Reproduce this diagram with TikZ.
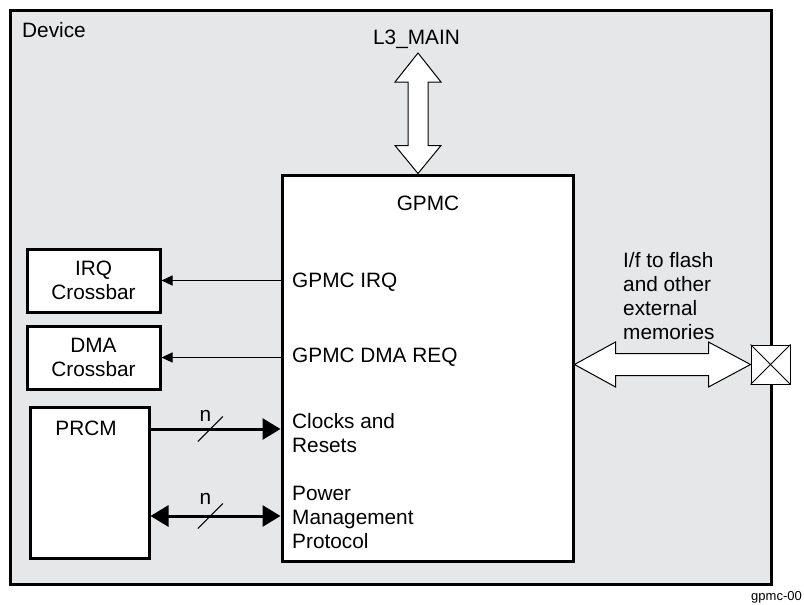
\documentclass[tikz,border=0pt]{standalone}
\usepackage{fontspec}
\setmainfont{Liberation Sans}
\usetikzlibrary{arrows.meta,calc}
\definecolor{devicegray}{RGB}{230,231,232}
\begin{document}
\begin{tikzpicture}[x=1pt, y=-1pt,
  every node/.style={font=\fontsize{20.8}{24}\selectfont, inner sep=0pt},
  block/.style={draw, line width=3pt, fill=white},
  sigline/.style={line width=1pt, -{Triangle[length=11pt,width=10pt]}},
  busline/.style={line width=3pt, >={Triangle[length=18pt,width=21pt]}},
  fatarrow/.style={draw, line width=1pt, fill=white, line join=miter}]
\useasboundingbox (0,0) rectangle (804,605);
\node[draw, line width=3pt, fill=devicegray, minimum width=761pt, minimum height=574pt] (device) at (390.5,297) {};
\node[anchor=base west] (devlabel) at (22,37) {Device};
\node[block, minimum width=291pt, minimum height=386pt] (gpmc) at (427.5,368) {};
\node (gpmclabel) at (428,203) {GPMC};
\node[block, minimum width=133pt, minimum height=63pt, align=center] (irq) at (93.5,280.5) {IRQ\\Crossbar};
\node[block, minimum width=133pt, minimum height=63pt, align=center] (dma) at (93.5,357.5) {DMA\\Crossbar};
\node[block, minimum width=119pt, minimum height=151pt] (prcm) at (89.5,482.5) {};
\node (prcmlabel) at (86,428) {PRCM};
% labels inside GPMC
\node[anchor=west] (irqsig) at (292,282) {GPMC IRQ};
\node[anchor=west] (dmasig) at (292,357) {GPMC DMA REQ};
\node[anchor=west, align=left] (clk) at (292,433.5) {Clocks and\\Resets};
\node[anchor=west, align=left] (pwr) at (292,517) {Power\\Management\\Protocol};
\node[anchor=west, align=left] (iflabel) at (623,296) {I/f to flash\\and other\\external\\memories};
\node[anchor=base] (l3) at (416.5,45) {L3\_MAIN};
\coordinate (l3tip) at (418,53);
% pad
\node[draw, line width=1pt, fill=white, minimum size=39pt] (pad) at (770.5,364.5) {};
\draw[line width=0.8pt] (pad.north west) -- (pad.south east) (pad.north east) -- (pad.south west);
% bus arrows
\draw[fatarrow] (l3tip) -- ++(-23,29) -- ++(13,0) -- ($(l3tip |- gpmc.north)+(-10,-28)$) -- ++(-13,0)
  -- (l3tip |- gpmc.north) -- ++(23,-28) -- ++(-13,0) -- ($(l3tip)+(10,29)$) -- ++(13,0) -- cycle;
\draw[fatarrow] (gpmc.east |- pad.west) -- ++(41,-22.5) -- ++(0,11.5) -- ($(pad.west)+(-42,-11)$) -- ++(0,-11.5)
  -- (pad.west) -- ++(-42,22.5) -- ++(0,-11.5) -- ($(gpmc.east |- pad.west)+(41,11)$) -- ++(0,11.5) -- cycle;
% signals
\draw[sigline] (gpmc.west |- irq.east) -- (irq.east);
\draw[sigline] (gpmc.west |- dma.east) -- (dma.east);
\draw[busline, ->] (prcm.east |- 0,429) -- coordinate[pos=0.46] (cut1) (gpmc.west |- 0,429);
\draw[busline, <->] (prcm.east |- 0,516) -- coordinate[pos=0.46] (cut2) (gpmc.west |- 0,516);
\draw[line width=1pt] (cut1) +(-12.5,12.5) -- +(12.5,-12.5);
\draw[line width=1pt] (cut2) +(-12.5,12.5) -- +(12.5,-12.5);
\node (n1) at ($(cut1)+(-5,-13)$) {n};
\node (n2) at ($(cut2)+(-5,-17)$) {n};
\node[anchor=base east, font=\fontsize{13}{15}\selectfont] (figid) at (802,600) {gpmc-00};
\end{tikzpicture}
\end{document}
